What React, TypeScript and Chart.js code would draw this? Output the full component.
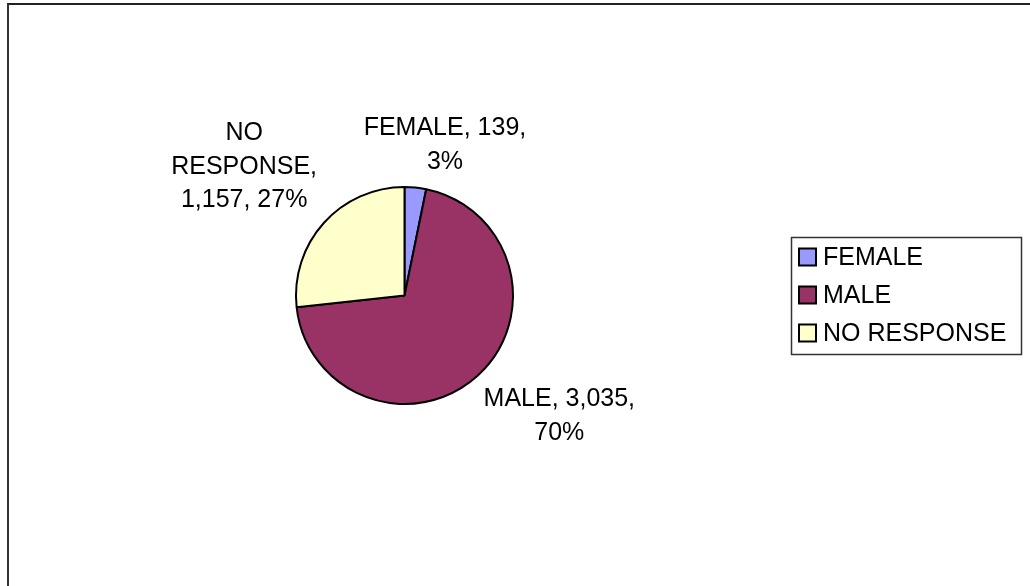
import React, { useEffect, useRef } from "react";
import { Chart, registerables } from "chart.js";

Chart.register(...registerables);

const categories: string[] = ["FEMALE", "MALE", "NO RESPONSE"];
const counts: number[] = [139, 3035, 1157];
const sliceColors: string[] = ["#9999FF", "#993366", "#FFFFCC"];

const FONT = "25px 'Liberation Sans', Arial, sans-serif";
const LINE_H = 33.5;

function wrapText(ctx: CanvasRenderingContext2D, text: string, maxW: number): string[] {
  const words = text.split(" ");
  const lines: string[] = [];
  let cur = "";
  for (const w of words) {
    const test = cur ? cur + " " + w : w;
    if (cur && ctx.measureText(test).width > maxW) {
      lines.push(cur);
      cur = w;
    } else {
      cur = test;
    }
  }
  if (cur) lines.push(cur);
  return lines;
}

const clamp = (v: number, a: number, b: number) => Math.max(a, Math.min(b, v));

const sliceLabels = {
  id: "sliceLabels",
  afterDatasetsDraw(chart: any) {
    const ctx: CanvasRenderingContext2D = chart.ctx;
    const meta = chart.getDatasetMeta(0);
    const data: number[] = chart.data.datasets[0].data;
    const labels: string[] = chart.data.labels;
    const total = data.reduce((a, b) => a + b, 0);
    ctx.save();
    ctx.font = FONT;
    ctx.fillStyle = "#000";
    ctx.textBaseline = "middle";
    ctx.textAlign = "left";
    meta.data.forEach((arc: any, i: number) => {
      const p = arc.getProps(["x", "y", "startAngle", "endAngle", "outerRadius"], true);
      const mid = (p.startAngle + p.endAngle) / 2;
      const dx = Math.cos(mid);
      const dy = Math.sin(mid);
      const R = p.outerRadius + 9;
      const ax = p.x + dx * R;
      const ay = p.y + dy * R;
      const pct = Math.round((data[i] / total) * 100);
      const text = `${labels[i]}, ${data[i].toLocaleString("en-US")}, ${pct}%`;
      const lines = wrapText(ctx, text, 175);
      const widths = lines.map((l) => ctx.measureText(l).width);
      const w = Math.max(...widths);
      const h = lines.length * LINE_H;
      const sx = clamp(dx * 3.5, -1, 1);
      const sy = clamp(dy * 3.5, -1, 1);
      const left = ax - w / 2 + (w / 2) * sx;
      const top = ay - h / 2 + (h / 2) * sy;
      lines.forEach((l, j) => {
        ctx.fillText(l, left + (w - widths[j]) / 2, top + LINE_H / 2 + j * LINE_H);
      });
    });
    ctx.restore();
  },
};

const boxLegend = {
  id: "boxLegend",
  afterDraw(chart: any) {
    const ctx: CanvasRenderingContext2D = chart.ctx;
    const labels: string[] = chart.data.labels;
    const colors: string[] = chart.data.datasets[0].backgroundColor;
    const bx = 791, by = 237, bw = 230, bh = 117;
    ctx.save();
    ctx.strokeStyle = "#333";
    ctx.lineWidth = 1.5;
    ctx.strokeRect(bx + 0.5, by + 0.5, bw, bh);
    ctx.font = FONT;
    ctx.textBaseline = "middle";
    ctx.textAlign = "left";
    labels.forEach((lab, i) => {
      const cy = by + 20 + i * 38;
      ctx.fillStyle = colors[i];
      ctx.fillRect(bx + 8, cy - 8.5, 17, 17);
      ctx.strokeStyle = "#000";
      ctx.lineWidth = 2;
      ctx.strokeRect(bx + 8, cy - 8.5, 17, 17);
      ctx.fillStyle = "#000";
      ctx.fillText(lab, bx + 32, cy + 1);
    });
    ctx.restore();
  },
};

export default function App() {
  const ref = useRef<HTMLCanvasElement | null>(null);

  useEffect(() => {
    if (!ref.current) return;
    const chart = new Chart(ref.current, {
      type: "pie",
      data: {
        labels: categories,
        datasets: [
          {
            data: counts,
            backgroundColor: sliceColors,
            borderColor: "#000",
            borderWidth: 2,
            hoverOffset: 0,
          },
        ],
      },
      options: {
        responsive: false,
        animation: false,
        devicePixelRatio: 1,
        radius: 108.5,
        layout: { padding: { left: 0, right: 221, top: 5, bottom: 0 } },
        plugins: {
          legend: { display: false },
          tooltip: { enabled: false },
          title: { display: false },
        },
        events: [],
      } as any,
      plugins: [sliceLabels, boxLegend],
    });
    return () => chart.destroy();
  }, []);

  return (
    <div
      style={{
        position: "absolute",
        left: 0,
        top: 0,
        width: 1030,
        height: 586,
        overflow: "hidden",
        background: "#fff",
      }}
    >
      <div
        style={{
          position: "absolute",
          left: 7,
          top: 3,
          width: 1100,
          height: 700,
          borderLeft: "2px solid #333",
          borderTop: "2px solid #222",
        }}
      />
      <canvas
        ref={ref}
        width={1030}
        height={586}
        style={{ position: "absolute", left: 0, top: 0, width: 1030, height: 586 }}
      />
    </div>
  );
}
